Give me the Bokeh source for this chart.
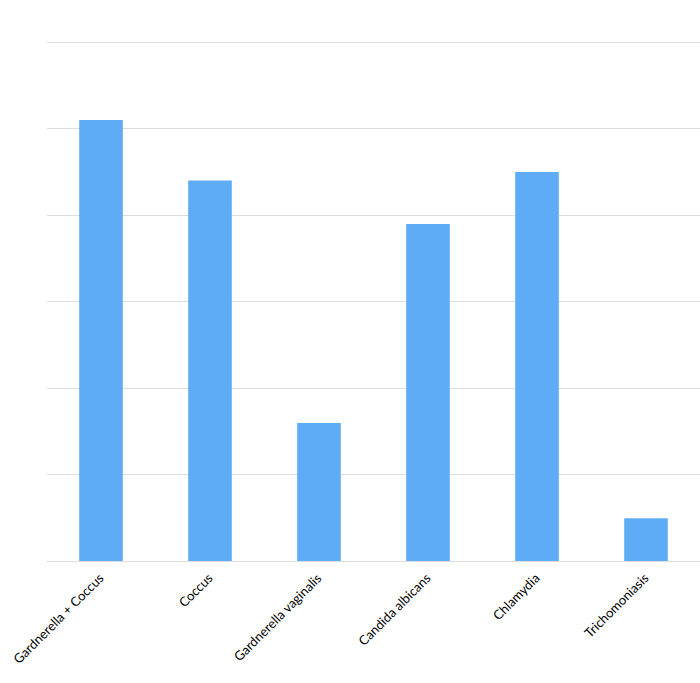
import math
from bokeh.plotting import figure
from bokeh.models import FixedTicker
from bokeh.embed import file_html
from bokeh.resources import INLINE

categories = ["Gardnerella + Coccus", "Coccus", "Gardnerella vaginalis",
              "Candida albicans", "Chlamydia", "Trichomoniasis"]
values = [51, 44, 16, 39, 45, 5]
y_ticks = [0, 10, 20, 30, 40, 50, 60]

p = figure(x_range=categories, y_range=(0, 60.3), width=700, height=675,
           output_backend="svg", toolbar_location=None,
           min_border_left=46, min_border_right=0, min_border_top=39,
           min_border_bottom=112)
p.vbar(x=categories, top=values, width=0.4, color="#5eacf6", line_color=None)

p.outline_line_color = None
p.xgrid.grid_line_color = None
p.ygrid.grid_line_color = "#dddddd"
p.ygrid.grid_line_width = 1
p.yaxis.ticker = FixedTicker(ticks=y_ticks)
p.yaxis.visible = False

p.xaxis.axis_line_color = "#dddddd"
p.xaxis.major_tick_line_color = None
p.xaxis.minor_tick_line_color = None
p.xaxis.major_label_orientation = math.pi / 4
p.xaxis.major_label_text_font = "Lato"
p.xaxis.major_label_text_font_size = "13px"
p.xaxis.major_label_text_color = "#000000"
p.xaxis.major_label_standoff = 8
p.x_range.range_padding = 0

open("out.html", "w").write(file_html(p, INLINE))
